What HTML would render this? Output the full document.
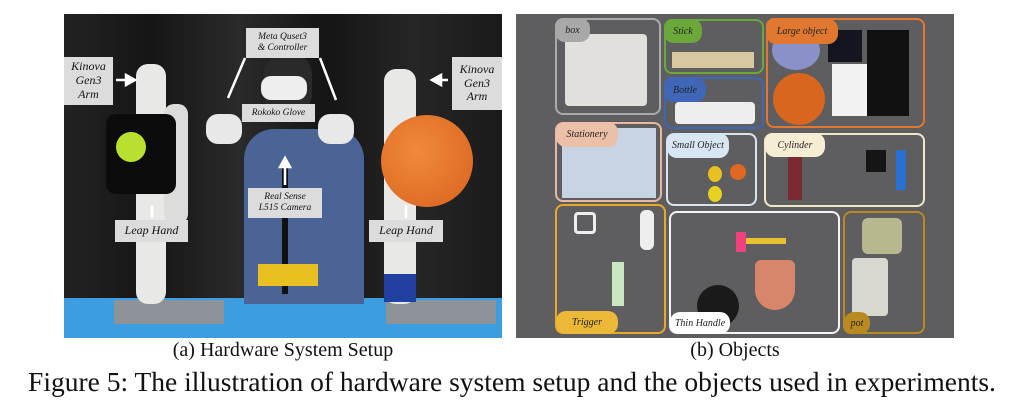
<!DOCTYPE html>
<html><head><style>
body{margin:0;width:1024px;height:407px;background:#fff;position:relative;overflow:hidden;font-family:"Liberation Serif",serif}
div{position:absolute;box-sizing:border-box}
.lab{background:#dcdcdc;color:#111;font-style:italic;text-align:center;display:flex;align-items:center;justify-content:center;line-height:1.15}
.bx{border:2px solid;border-radius:8px}
.pill{border-radius:10px;font-style:italic;font-size:10px;display:flex;align-items:center;justify-content:center;color:#222}
.cap{font-size:20px;text-align:center;color:#111;white-space:nowrap}
</style></head><body>
<!-- left photo -->
<div style="left:64px;top:14px;width:438px;height:324px;background:#1c1c1e;overflow:hidden">
 <div style="left:0;top:0;width:438px;height:284px;background:linear-gradient(90deg,#222 0,#161616 20%,#2a2a2a 40%,#151515 60%,#262626 80%,#1a1a1a 100%)"></div>
 <div style="left:0;top:284px;width:438px;height:40px;background:#3c9ee0"></div>
 <div style="left:50px;top:286px;width:110px;height:24px;background:#8e9399"></div>
 <div style="left:322px;top:286px;width:110px;height:24px;background:#8e9399"></div>
 <div style="left:72px;top:50px;width:30px;height:240px;background:#e8e8e6;border-radius:12px"></div>
 <div style="left:100px;top:90px;width:24px;height:120px;background:#dcdcda;border-radius:10px"></div>
 <div style="left:42px;top:100px;width:70px;height:80px;background:#0c0c0c;border-radius:10px"></div>
 <div style="left:52px;top:118px;width:30px;height:30px;background:#b8e030;border-radius:50%"></div>
 <div style="left:320px;top:55px;width:32px;height:235px;background:#e8e8e6;border-radius:12px"></div>
 <div style="left:320px;top:260px;width:32px;height:28px;background:#2040a0"></div>
 <div style="left:317px;top:101px;width:92px;height:92px;background:radial-gradient(circle at 40% 40%,#f08a3a,#d8621e);border-radius:50%"></div>
 <div style="left:180px;top:115px;width:120px;height:175px;background:#4a6496;border-radius:30px 30px 0 0"></div>
 <div style="left:200px;top:40px;width:48px;height:60px;background:#2a2a2a;border-radius:20px"></div>
 <div style="left:197px;top:62px;width:46px;height:24px;background:#eee;border-radius:10px"></div>
 <div style="left:142px;top:100px;width:36px;height:30px;background:#e8e8e8;border-radius:12px"></div>
 <div style="left:254px;top:100px;width:36px;height:30px;background:#e8e8e8;border-radius:12px"></div>
 <div style="left:218px;top:150px;width:6px;height:130px;background:#111"></div>
 <div style="left:194px;top:250px;width:60px;height:22px;background:#e8c020"></div>
</div>
<div class="lab" style="left:246px;top:28px;width:73px;height:30px;font-size:9.5px">Meta Quset3<br>&amp; Controller</div>
<div class="lab" style="left:64px;top:57px;width:49px;height:48px;font-size:12px">Kinova<br>Gen3<br>Arm</div>
<div class="lab" style="left:452px;top:57px;width:50px;height:53px;font-size:12px">Kinova<br>Gen3<br>Arm</div>
<div class="lab" style="left:242px;top:104px;width:73px;height:18px;font-size:9.5px">Rokoko Glove</div>
<div class="lab" style="left:248px;top:188px;width:74px;height:30px;font-size:9.5px">Real Sense<br>L515 Camera</div>
<div class="lab" style="left:115px;top:220px;width:73px;height:22px;font-size:12px">Leap Hand</div>
<div class="lab" style="left:369px;top:220px;width:74px;height:22px;font-size:12px">Leap Hand</div>
<svg style="position:absolute;left:0;top:0" width="512" height="340"><g stroke="#fff" stroke-width="2.5" fill="#fff">
<line x1="116" y1="80" x2="128" y2="80"/><polygon points="135,80 126,75 126,85"/>
<line x1="448" y1="80" x2="440" y2="80"/><polygon points="432,80 441,75 441,85"/>
<line x1="245" y1="58" x2="228" y2="98"/><line x1="320" y1="58" x2="336" y2="100"/>
<line x1="285" y1="185" x2="285" y2="165"/><polygon points="285,158 280,167 290,167"/>
<line x1="152" y1="218" x2="152" y2="205"/><line x1="406" y1="218" x2="406" y2="205"/>
</g></svg>
<div class="cap" style="left:64px;top:339px;width:438px">(a) Hardware System Setup</div>
<!-- right photo -->
<div style="left:516px;top:14px;width:438px;height:324px;background:#5e5e60"></div>
<div class="bx" style="left:555px;top:18px;width:106px;height:97px;border-color:#aaa"></div>
<div style="left:565px;top:34px;width:82px;height:72px;background:#e2e0dc;border-radius:4px"></div>
<div class="bx" style="left:664px;top:19px;width:100px;height:55px;border-color:#6aa83a"></div>
<div style="left:672px;top:52px;width:82px;height:16px;background:#d8c8a0"></div>
<div class="bx" style="left:766px;top:18px;width:159px;height:110px;border-color:#e07830"></div>
<div style="left:773px;top:73px;width:52px;height:52px;background:#d8661e;border-radius:50%"></div>
<div style="left:772px;top:30px;width:48px;height:40px;background:#8a90c8;border-radius:50%"></div>
<div style="left:832px;top:64px;width:36px;height:52px;background:#f2f2f2"></div>
<div style="left:828px;top:30px;width:34px;height:32px;background:#15151f"></div>
<div style="left:867px;top:30px;width:42px;height:86px;background:#111"></div>
<div class="bx" style="left:664px;top:77px;width:100px;height:52px;border-color:#4066b8"></div>
<div style="left:675px;top:102px;width:80px;height:22px;background:#eee;border-radius:4px"></div>
<div class="bx" style="left:555px;top:122px;width:107px;height:80px;border-color:#e8b8a0"></div>
<div style="left:562px;top:128px;width:94px;height:70px;background:#c8d4e4"></div>
<div class="bx" style="left:666px;top:133px;width:91px;height:73px;border-color:#d8e4f0"></div>
<div style="left:708px;top:166px;width:14px;height:16px;background:#e8c020;border-radius:50%"></div>
<div style="left:730px;top:164px;width:16px;height:16px;background:#e06820;border-radius:50%"></div>
<div style="left:708px;top:186px;width:14px;height:16px;background:#e8d020;border-radius:50%"></div>
<div class="bx" style="left:764px;top:133px;width:161px;height:74px;border-color:#f0e6c8"></div>
<div style="left:788px;top:154px;width:14px;height:46px;background:#7a2a30"></div>
<div style="left:866px;top:150px;width:20px;height:22px;background:#151515"></div>
<div style="left:896px;top:150px;width:10px;height:40px;background:#2a70d0"></div>
<div class="bx" style="left:555px;top:204px;width:111px;height:130px;border-color:#e8a828"></div>
<div style="left:574px;top:212px;width:22px;height:22px;border:3px solid #eee;border-radius:4px"></div>
<div style="left:640px;top:210px;width:14px;height:40px;background:#eee;border-radius:6px"></div>
<div style="left:612px;top:262px;width:12px;height:44px;background:#c8e8c0"></div>
<div class="bx" style="left:669px;top:211px;width:171px;height:123px;border-color:#f4f4f4"></div>
<div style="left:697px;top:285px;width:42px;height:42px;background:#1a1a1a;border-radius:50%"></div>
<div style="left:755px;top:260px;width:40px;height:50px;background:#d8866a;border-radius:6px 6px 20px 20px"></div>
<div style="left:740px;top:238px;width:46px;height:6px;background:#e8c030"></div>
<div style="left:736px;top:232px;width:10px;height:20px;background:#f04080"></div>
<div class="bx" style="left:843px;top:211px;width:82px;height:123px;border-color:#b88a20"></div>
<div style="left:862px;top:218px;width:40px;height:36px;background:#b8b890;border-radius:6px"></div>
<div style="left:852px;top:258px;width:36px;height:58px;background:#d8d8d0;border-radius:4px"></div>
<div class="pill" style="left:555px;top:18px;width:35px;height:24px;background:#a8a8a8">box</div>
<div class="pill" style="left:664px;top:19px;width:38px;height:24px;background:#6aa83a">Stick</div>
<div class="pill" style="left:766px;top:19px;width:72px;height:25px;background:#e07830">Large object</div>
<div class="pill" style="left:664px;top:78px;width:42px;height:24px;background:#4066b8">Bottle</div>
<div class="pill" style="left:556px;top:122px;width:62px;height:25px;background:#ecc0a8">Stationery</div>
<div class="pill" style="left:667px;top:133px;width:62px;height:25px;background:#d8e6f4">Small Object</div>
<div class="pill" style="left:765px;top:133px;width:60px;height:24px;background:#f6eed4">Cylinder</div>
<div class="pill" style="left:556px;top:311px;width:62px;height:23px;background:#ecb838">Trigger</div>
<div class="pill" style="left:670px;top:312px;width:60px;height:22px;background:#fff">Thin Handle</div>
<div class="pill" style="left:844px;top:312px;width:26px;height:22px;background:#b88a20">pot</div>
<div class="cap" style="left:516px;top:339px;width:438px">(b) Objects</div>
<div style="left:0;top:366px;width:1024px;text-align:center;font-size:27.5px;color:#111;white-space:nowrap">Figure 5: The illustration of hardware system setup and the objects used in experiments.</div>
</body></html>
